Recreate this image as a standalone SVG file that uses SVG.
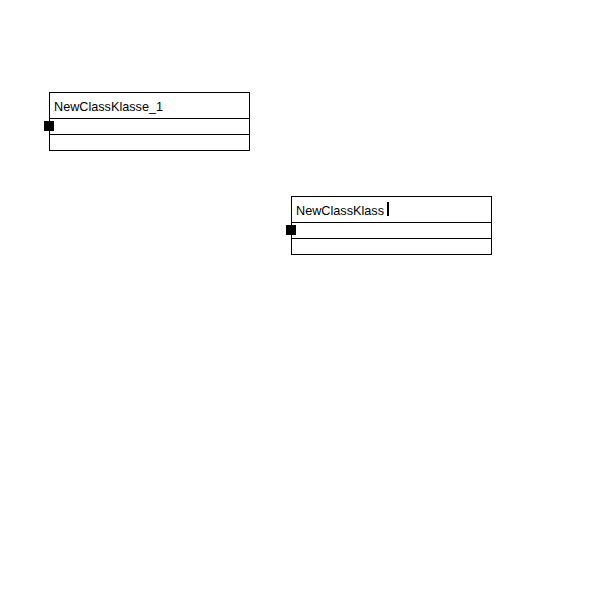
<svg xmlns="http://www.w3.org/2000/svg" width="600" height="600" viewBox="0 0 600 600">
<style>
.box{fill:#fff;stroke:#000;stroke-width:1}
.div{stroke:#000;stroke-width:1}
.lbl{font-family:"Liberation Sans",Arial,sans-serif;font-size:13px;fill:#000}
.h{fill:#000}
</style>
<rect width="600" height="600" fill="#fff"/>
<g id="class1">
<rect class="box" x="49.5" y="92.5" width="200" height="58"/>
<line class="div" x1="49.5" y1="118.5" x2="249.5" y2="118.5"/>
<line class="div" x1="49.5" y1="134.5" x2="249.5" y2="134.5"/>
<text class="lbl" x="54" y="110.5" textLength="109" lengthAdjust="spacingAndGlyphs">NewClassKlasse_1</text>
<rect class="h" x="44" y="121" width="10" height="10"/>
</g>
<g id="class2">
<rect class="box" x="291.5" y="196.5" width="200" height="58"/>
<line class="div" x1="291.5" y1="222.5" x2="491.5" y2="222.5"/>
<line class="div" x1="291.5" y1="238.5" x2="491.5" y2="238.5"/>
<text class="lbl" x="296" y="214.5" textLength="88" lengthAdjust="spacingAndGlyphs">NewClassKlass</text>
<rect class="h" x="387" y="202" width="2" height="14"/>
<rect class="h" x="286" y="225" width="10" height="10"/>
</g>
<g id="connectors"></g>
</svg>
